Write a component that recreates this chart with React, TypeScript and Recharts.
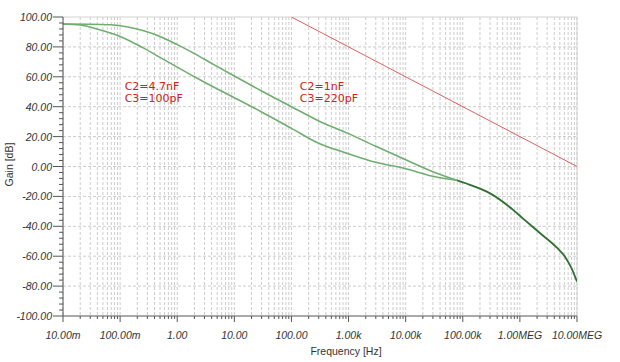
import { LineChart, Line, XAxis, YAxis, CartesianGrid, ReferenceLine, ReferenceDot, Label } from "recharts";

// x axis: decades + their labels (minor ticks at 2..9 of each decade)
const decades = [0.01, 0.1, 1, 10, 100, 1e3, 1e4, 1e5, 1e6, 1e7];
const decadeLabels = ["10.00m", "100.00m", "1.00", "10.00", "100.00", "1.00k", "10.00k", "100.00k", "1.00MEG", "10.00MEG"];
const minorSteps = [2, 3, 4, 5, 6, 7, 8, 9];

const gainMajor = [-100, -80, -60, -40, -20, 0, 20, 40, 60, 80, 100];
const gainMinorStep = 4;

// C2=1nF / C3=220pF (upper curve)
const upperCurve = [
  { f: 0.01, g: 95.3 }, { f: 0.03, g: 95.2 }, { f: 0.07, g: 94.8 }, { f: 0.13, g: 93.5 },
  { f: 0.25, g: 91.0 }, { f: 0.5, g: 87.0 }, { f: 1, g: 81.5 }, { f: 2, g: 75.5 },
  { f: 4, g: 69.0 }, { f: 10, g: 60.5 }, { f: 30, g: 50.5 }, { f: 100, g: 40.0 },
  { f: 300, g: 30.5 }, { f: 1000, g: 22.0 }, { f: 3000, g: 13.5 }, { f: 10000, g: 4.5 },
  { f: 30000, g: -3.5 }, { f: 80000, g: -9.3 },
];

// C2=4.7nF / C3=100pF (lower curve)
const lowerCurve = [
  { f: 0.01, g: 95.3 }, { f: 0.02, g: 94.6 }, { f: 0.045, g: 91.3 }, { f: 0.1, g: 87.0 },
  { f: 0.25, g: 79.5 }, { f: 0.5, g: 73.0 }, { f: 1, g: 66.5 }, { f: 2, g: 60.0 },
  { f: 4, g: 53.8 }, { f: 10, g: 46.0 }, { f: 30, g: 36.5 }, { f: 100, g: 25.5 },
  { f: 300, g: 15.5 }, { f: 1000, g: 8.5 }, { f: 3000, g: 2.8 }, { f: 10000, g: -1.5 },
  { f: 30000, g: -6.5 }, { f: 80000, g: -9.3 },
];

// shared high-frequency roll-off
const tailCurve = [
  { f: 80000, g: -9.3 }, { f: 150000, g: -13.0 }, { f: 300000, g: -18.0 }, { f: 760000, g: -29 },
  { f: 1150000, g: -35 }, { f: 2240000, g: -44.5 }, { f: 4500000, g: -54.5 }, { f: 6200000, g: -60.5 },
  { f: 8000000, g: -68 }, { f: 10000000, g: -77 },
];

const refLine = [{ f: 100, g: 100 }, { f: 10000000, g: 0 }];

const annotationText = [["C2=4.7nF", "C3=100pF"], ["C2=1nF", "C3=220pF"]];
const annotationAt = [{ f: 0.12, g: 51 }, { f: 140, g: 51 }];

const xTicks = [
  ...decades,
  ...decades.slice(0, -1).flatMap(d => minorSteps.map(m => d * m)),
].sort((a, b) => a - b);

const yTicks: number[] = [];
for (let v = -100; v <= 100; v += gainMinorStep) yTicks.push(v);

const tickFont = { fontFamily: "'Liberation Sans', Arial, sans-serif", fontStyle: "italic", fontSize: 10.5, fill: "#333" };
const titleFont = { fontFamily: "'Liberation Sans', Arial, sans-serif", fontSize: 10.5, fill: "#333" };
const noteFont = { fontFamily: "'DejaVu Sans', Verdana, sans-serif", fontSize: 11, fill: "#d02020" };

function XTick({ x, y, payload }: any) {
  const i = decades.indexOf(payload.value);
  const major = i >= 0;
  return (
    <g>
      <line x1={x} x2={x} y1={y} y2={y + (major ? 6 : 3)} stroke="#555" />
      {major && <text x={x} y={y + 23} textAnchor="middle" {...tickFont}>{decadeLabels[i]}</text>}
    </g>
  );
}

function YTick({ x, y, payload }: any) {
  const major = payload.value % 20 === 0;
  return (
    <g>
      <line x1={x} x2={x - (major ? 10 : 4)} y1={y} y2={y} stroke="#555" />
      {major && <text x={x - 11} y={y + 4} textAnchor="end" {...tickFont}>{payload.value.toFixed(2)}</text>}
    </g>
  );
}

export default function App() {
  return (
    <div style={{ position: "absolute", left: 0, top: 0, background: "white" }}>
      <LineChart width={620} height={362} margin={{ top: 17, right: 43, bottom: 0, left: 0 }}>
        <CartesianGrid horizontal={false} stroke="#cccccc" strokeDasharray="3 2" />
        {gainMajor.slice(1, -1).map(v => (
          <ReferenceLine key={v} y={v} stroke="#cccccc" strokeDasharray="3 2" />
        ))}
        <ReferenceLine y={100} stroke="#d2d2d2" />
        <ReferenceLine x={1e7} stroke="#d2d2d2" />
        <XAxis
          type="number" dataKey="f" scale="log" domain={[0.01, 1e7]} allowDataOverflow
          ticks={xTicks} interval={0} tickSize={0} tickMargin={0} tick={XTick}
          axisLine={{ stroke: "#555" }} tickLine={false} height={46}
        >
          <Label content={({ viewBox }: any) => (
            <text x={viewBox.x + viewBox.width / 2 + 26} y={viewBox.y + 39} textAnchor="middle" {...titleFont}>Frequency [Hz]</text>
          )} />
        </XAxis>
        <YAxis
          type="number" domain={[-100, 100]} allowDataOverflow
          ticks={yTicks} interval={0} tickSize={0} tickMargin={0} tick={YTick}
          axisLine={{ stroke: "#555" }} tickLine={false} width={63}
        >
          <Label content={({ viewBox }: any) => (
            <text transform={`translate(${viewBox.x + 13},${viewBox.y + viewBox.height / 2 - 2}) rotate(-90)`} textAnchor="middle" {...titleFont}>Gain [dB]</text>
          )} />
        </YAxis>
        <Line data={refLine} dataKey="g" type="linear" stroke="#dc6060" strokeWidth={1} dot={false} isAnimationActive={false} />
        <Line data={upperCurve} dataKey="g" type="monotone" stroke="#6fae6f" strokeWidth={1.6} dot={false} isAnimationActive={false} />
        <Line data={lowerCurve} dataKey="g" type="monotone" stroke="#6fae6f" strokeWidth={1.6} dot={false} isAnimationActive={false} />
        <Line data={tailCurve} dataKey="g" type="monotone" stroke="#2f6f2f" strokeWidth={1.8} dot={false} isAnimationActive={false} />
        {annotationAt.map((a, i) => (
          <ReferenceDot key={i} x={a.f} y={a.g} r={0} fill="none" stroke="none"
            label={{
              content: ({ viewBox }: any) => (
                <text {...noteFont}>
                  <tspan x={viewBox.x} y={viewBox.y}>{annotationText[i][0]}</tspan>
                  <tspan x={viewBox.x} y={viewBox.y + 12}>{annotationText[i][1]}</tspan>
                </text>
              ),
            }}
          />
        ))}
      </LineChart>
    </div>
  );
}
